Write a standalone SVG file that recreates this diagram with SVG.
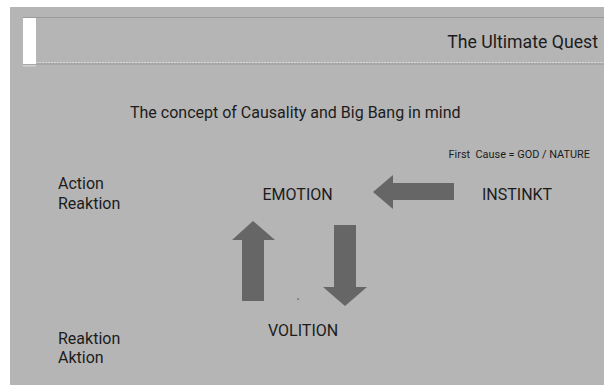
<svg xmlns="http://www.w3.org/2000/svg" width="604" height="385" viewBox="0 0 604 385">
<style>
text{font-family:Roboto,"Liberation Sans",sans-serif;fill:#1c1c1c}
.l{font-size:16px}
.a{fill:#666666}
</style>
<rect x="0" y="0" width="604" height="385" fill="#ffffff"/>
<rect x="10" y="7" width="594" height="378" fill="#b5b5b5"/>
<g id="header">
<line x1="23" y1="17.5" x2="604" y2="17.5" stroke="#9a9a9a" stroke-width="1"/>
<line x1="36" y1="62.5" x2="604" y2="62.5" stroke="#d8d8d8" stroke-width="1" stroke-dasharray="2,1"/>
<line x1="23" y1="64" x2="604" y2="64" stroke="#9a9a9a" stroke-width="1"/>
<rect x="23" y="18" width="13" height="46" fill="#ffffff"/>
<rect x="23" y="65" width="13" height="1.5" fill="#d0d0d0"/>
<text x="598" y="48" font-size="17.7" text-anchor="end">The Ultimate Quest</text>
</g>
<g id="subtitle"><text x="130" y="118" font-size="16">The concept of Causality and Big Bang in mind</text></g>
<g id="first-cause"><text x="590" y="158" font-size="10.9" text-anchor="end" style="white-space:pre">First  Cause = GOD / NATURE</text></g>
<g id="action-reaktion"><text class="l" x="58" y="188.5">Action</text><text class="l" x="58" y="208.5">Reaktion</text></g>
<g id="emotion"><text class="l" x="262.5" y="199.5">EMOTION</text></g>
<g id="instinkt"><text class="l" x="482" y="199.5">INSTINKT</text></g>
<g id="volition"><text class="l" x="268" y="335.5">VOLITION</text></g>
<g id="reaktion-aktion"><text class="l" x="58" y="343.5">Reaktion</text><text class="l" x="58" y="362.5">Aktion</text></g>
<g id="connectors">
<polygon class="a" points="454,183 393,183 393,175 373,192 393,209 393,200 454,200"/>
<polygon class="a" points="242,301 242,240 232,240 253,221 275,240 264,240 264,301"/>
<polygon class="a" points="334,225 356,225 356,287 367,287 345,306 323,287 334,287"/>
</g>
<rect x="297.5" y="298.5" width="1.2" height="1.2" fill="#333"/>
</svg>
